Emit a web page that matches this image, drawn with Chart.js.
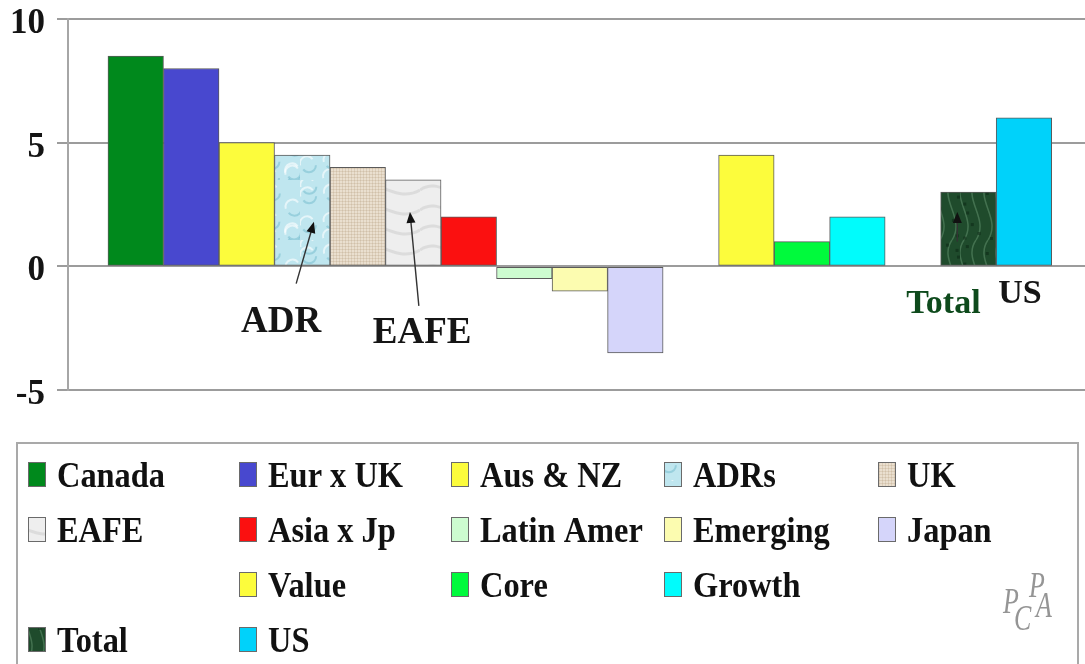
<!DOCTYPE html>
<html>
<head>
<meta charset="utf-8">
<script src="https://cdn.jsdelivr.net/npm/chart.js@4/dist/chart.umd.min.js"></script>
<style>
  html, body { margin: 0; padding: 0; background: #fff; }
  #wrap { width: 1085px; height: 664px; position: relative; }
</style>
</head>
<body>
<div id="wrap"><canvas id="returnsChart"></canvas></div>
<script>
// return by market segment (%)
const segments = ["Canada", "Eur x UK", "Aus & NZ", "ADRs", "UK", "EAFE", "Asia x Jp",
  "Latin Amer", "Emerging", "Japan", "Value", "Core", "Growth", "Total", "US"];
const returns = [8.5, 8, 5, 4.5, 4, 3.5, 2, -0.5, -1, -3.5, 4.5, 1, 2, 3, 6];

// order of the bars along the x axis, blank slots split the groups
const slots = ["Canada", "Eur x UK", "Aus & NZ", "ADRs", "UK", "EAFE", "Asia x Jp",
  "Latin Amer", "Emerging", "Japan", "", "Value", "Core", "Growth", "", "Total", "US"];

const yTicks = [-5, 0, 5, 10];

// legend grid, row by row (null = empty cell)
const legendRows = [
  ["Canada", "Eur x UK", "Aus & NZ", "ADRs", "UK"],
  ["EAFE", "Asia x Jp", "Latin Amer", "Emerging", "Japan"],
  [null, "Value", "Core", "Growth"],
  ["Total", "US"]
];

const serif = "'Liberation Serif', 'Times New Roman', serif";

// small tiles used as fills for the textured bars
function tile(base, paint) {
  const c = document.createElement("canvas");
  c.width = c.height = 60;
  const g = c.getContext("2d");
  g.fillStyle = base;
  g.fillRect(0, 0, 60, 60);
  paint(g);
  return document.createElement("canvas").getContext("2d").createPattern(c, "repeat");
}

const waterTile = tile("#bfe6ef", g => {
  for (let k = 0; k < 9; k++) {
    const cx = 30 + 26 * Math.sin(k * 2.1), cy = 30 + 26 * Math.cos(k * 1.7);
    g.lineWidth = 2;
    g.strokeStyle = "rgba(255,255,255,0.6)";
    g.beginPath(); g.arc(cx, cy, 7, Math.PI * 0.9, Math.PI * 1.8); g.stroke();
    g.strokeStyle = "rgba(80,165,190,0.35)";
    g.beginPath(); g.arc(cx + 2, cy + 2, 7, 0, Math.PI * 0.8); g.stroke();
  }
});

const burlapTile = tile("#eadfcf", g => {
  g.fillStyle = "rgba(165,140,105,0.2)";
  for (let i = 0; i < 60; i += 3) {
    g.fillRect(i, 0, 1, 60);
    g.fillRect(0, i, 60, 1);
  }
});

const marbleTile = tile("#eeeeee", g => {
  g.strokeStyle = "rgba(160,160,160,0.22)";
  g.lineWidth = 3;
  for (let k = 0; k < 3; k++) {
    g.beginPath();
    g.moveTo(0, 10 + k * 20);
    g.bezierCurveTo(20, k * 20 - 4, 35, 24 + k * 20, 60, 10 + k * 20);
    g.stroke();
  }
});

const greenMarbleTile = tile("#1f4b2c", g => {
  g.strokeStyle = "rgba(135,185,145,0.35)";
  g.lineWidth = 1.5;
  for (let k = 0; k < 5; k++) {
    g.beginPath();
    g.moveTo(4 + k * 12, 0);
    g.bezierCurveTo(k * 12 - 10, 20, 18 + k * 12, 38, 4 + k * 12, 60);
    g.stroke();
  }
  g.fillStyle = "rgba(10,35,18,0.5)";
  for (let k = 0; k < 14; k++) {
    g.fillRect(30 + 27 * Math.sin(k * 3.3), 30 + 27 * Math.cos(k * 2.3), 3, 3);
  }
});

const fills = {
  "Canada": "#00891c",
  "Eur x UK": "#4848cf",
  "Aus & NZ": "#fcfc3c",
  "ADRs": waterTile,
  "UK": burlapTile,
  "EAFE": marbleTile,
  "Asia x Jp": "#fb1010",
  "Latin Amer": "#cdfcd0",
  "Emerging": "#fcfcb0",
  "Japan": "#d5d5fa",
  "Value": "#fcfc3c",
  "Core": "#00fa3c",
  "Growth": "#00fcfc",
  "Total": greenMarbleTile,
  "US": "#00d2fa"
};

const datasets = segments.map((name, i) => ({
  label: name,
  data: [{ x: slots.indexOf(name), y: returns[i] }],
  backgroundColor: fills[name],
  borderColor: "#5a5a5a",
  borderWidth: 1,
  borderSkipped: false,
  grouped: false,
  barPercentage: 1,
  categoryPercentage: 1
}));

function arrow(ctx, x1, y1, x2, y2) {
  const a = Math.atan2(y2 - y1, x2 - x1);
  ctx.save();
  ctx.strokeStyle = "#333";
  ctx.fillStyle = "#111";
  ctx.lineWidth = 1.4;
  ctx.beginPath();
  ctx.moveTo(x1, y1);
  ctx.lineTo(x2 - 8 * Math.cos(a), y2 - 8 * Math.sin(a));
  ctx.stroke();
  ctx.beginPath();
  ctx.moveTo(x2, y2);
  ctx.lineTo(x2 - 11 * Math.cos(a) + 4.5 * Math.sin(a), y2 - 11 * Math.sin(a) - 4.5 * Math.cos(a));
  ctx.lineTo(x2 - 11 * Math.cos(a) - 4.5 * Math.sin(a), y2 - 11 * Math.sin(a) + 4.5 * Math.cos(a));
  ctx.closePath();
  ctx.fill();
  ctx.restore();
}

function squeezedText(ctx, str, x, y, sx) {
  ctx.save();
  ctx.translate(x, y);
  ctx.scale(sx, 1);
  ctx.fillText(str, 0, 0);
  ctx.restore();
}

// callout labels under the bars
const callouts = {
  id: "callouts",
  afterDatasetsDraw(chart) {
    const { ctx, scales: { x, y } } = chart;
    const px = v => x.getPixelForValue(v), py = v => y.getPixelForValue(v);
    const iADR = slots.indexOf("ADRs"), iEAFE = slots.indexOf("EAFE");
    const iTotal = slots.indexOf("Total"), iUS = slots.indexOf("US");

    arrow(ctx, px(iADR - 0.11), py(-0.7), px(iADR + 0.21), py(1.8));
    arrow(ctx, px(iEAFE + 0.1), py(-1.6), px(iEAFE - 0.06), py(2.2));
    arrow(ctx, px(iTotal - 0.2), py(1.0), px(iTotal - 0.2), py(2.2));

    ctx.save();
    ctx.font = "bold 37px " + serif;
    ctx.textAlign = "center";
    ctx.textBaseline = "alphabetic";
    ctx.fillStyle = "#151515";
    ctx.fillText("ADR", px(iADR - 0.38), py(-2.65));
    ctx.fillText("EAFE", px(iEAFE + 0.16), py(-3.08));
    ctx.font = "bold 34px " + serif;
    ctx.fillStyle = "#0e4a1c";
    ctx.fillText("Total", px(iTotal - 0.45), py(-1.9));
    ctx.fillStyle = "#151515";
    ctx.fillText("US", px(iUS - 0.07), py(-1.48));
    ctx.restore();
  }
};

// boxed legend below the plot
const boxLegend = {
  id: "boxLegend",
  afterDraw(chart) {
    const ctx = chart.ctx;
    const colX = [28, 239, 451, 664, 878];
    const rowY = [487, 542, 597, 652];
    ctx.save();
    ctx.strokeStyle = "#a9a9a9";
    ctx.lineWidth = 2;
    ctx.strokeRect(17, 443, 1061, 240);

    ctx.font = "bold 36px " + serif;
    ctx.textBaseline = "alphabetic";
    legendRows.forEach((row, r) => {
      row.forEach((name, c) => {
        if (!name) return;
        const ds = chart.data.datasets.find(d => d.label === name);
        const kx = colX[c], ky = rowY[r];
        ctx.fillStyle = ds.backgroundColor;
        ctx.fillRect(kx, ky - 25, 17, 24);
        ctx.strokeStyle = "#6a6a6a";
        ctx.lineWidth = 1;
        ctx.strokeRect(kx + 0.5, ky - 24.5, 17, 24);
        ctx.fillStyle = "#111";
        squeezedText(ctx, name, kx + 29, ky, 0.9);
      });
    });

    // PCA mark
    ctx.fillStyle = "#959595";
    ctx.font = "italic 36px " + serif;
    squeezedText(ctx, "P", 1003, 613, 0.72);
    squeezedText(ctx, "C", 1014, 630, 0.72);
    squeezedText(ctx, "P", 1029, 597, 0.72);
    squeezedText(ctx, "A", 1036, 617, 0.72);
    ctx.restore();
  }
};

const ctx = document.getElementById("returnsChart").getContext("2d");

let chart = new Chart(ctx, {
  type: "bar",
  data: { datasets: datasets },
  options: {
    responsive: true,
    maintainAspectRatio: false,
    animation: false,
    layout: { padding: { top: 19, right: 0, bottom: 274, left: 0 } },
    plugins: {
      legend: { display: false },
      tooltip: { enabled: false }
    },
    scales: {
      x: {
        type: "linear",
        offset: false,
        min: -1.22,
        max: slots.length + 0.1,
        display: false,
        afterBuildTicks: s => { s.ticks = slots.map((_, i) => ({ value: i })); }
      },
      y: {
        min: -5,
        max: 10,
        afterBuildTicks: s => { s.ticks = yTicks.map(v => ({ value: v })); },
        afterFit: s => { s.width = 68; s.paddingTop = 0; s.paddingBottom = 0; },
        ticks: {
          color: "#141414",
          padding: 12,
          labelOffset: 5,
          font: { family: serif, size: 35, weight: "bold", lineHeight: 1 }
        },
        grid: { color: "#9c9c9c", lineWidth: 2, tickLength: 11 },
        border: { color: "#a6a6a6", width: 2 }
      }
    }
  },
  plugins: [callouts, boxLegend]
});
</script>
</body>
</html>
